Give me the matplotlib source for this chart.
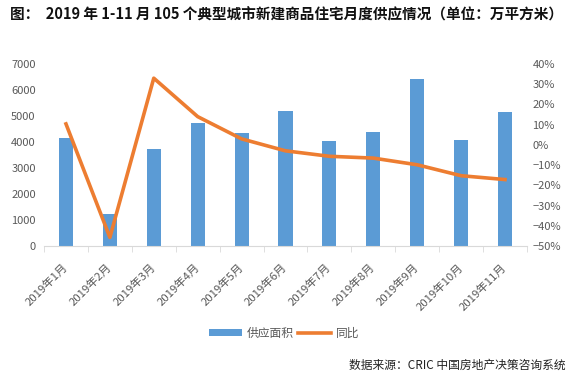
import numpy as np
import matplotlib
matplotlib.use('Agg')
import matplotlib.pyplot as plt
import matplotlib.transforms as mtransforms
from matplotlib.ticker import FuncFormatter, MultipleLocator

plt.rcParams['font.family'] = ['Noto Sans CJK SC', 'DejaVu Sans']
plt.rcParams['axes.unicode_minus'] = False

months = ['2019年%d月' % m for m in range(1, 12)]
supply = [4140, 1230, 3730, 4740, 4360, 5190, 4040, 4380, 6420, 4080, 5150]  # 万平方米
yoy = [10.4, -45.7, 33.0, 14.0, 3.0, -2.9, -5.6, -6.5, -9.8, -15.2, -17.1]  # %

bar_color = '#5B9BD5'
line_color = '#ED7D31'
txt = '#595959'

fig = plt.figure(figsize=(5.74, 3.81), dpi=100)
ax = fig.add_axes([0.0767, 0.354, 0.8413, 0.478])
x = np.arange(len(months))
ax.bar(x, supply, width=0.32, color=bar_color, label='供应面积', zorder=2)
ax.set_xlim(-0.5, len(months) - 0.5)
ax.set_ylim(0, 7000)
ax.yaxis.set_major_locator(MultipleLocator(1000))
ax.set_xticks(x)
ax.set_xticklabels(months, rotation=45, ha='right', va='center',
                   rotation_mode='anchor', fontsize=8.2, color=txt)
# nudge labels so their ends sit just right of the tick
offset = mtransforms.ScaledTranslation(7 / 100, 0, fig.dpi_scale_trans)
for lab in ax.get_xticklabels():
    lab.set_transform(lab.get_transform() + offset)
ax.set_xticks(np.arange(-0.5, len(months), 1), minor=True)
ax.tick_params(axis='x', which='major', length=0, pad=14)
ax.tick_params(axis='x', which='minor', length=4, color='#d9d9d9')
ax.tick_params(axis='y', length=0, labelsize=8, labelcolor=txt, pad=6)
for s in ['top', 'left', 'right']:
    ax.spines[s].set_visible(False)
ax.spines['bottom'].set_color('#d9d9d9')

ax2 = ax.twinx()
ax2.plot(x, yoy, color=line_color, lw=2.6, label='同比', zorder=3,
         solid_joinstyle='round')
ax2.set_ylim(-50, 40)
ax2.yaxis.set_major_locator(MultipleLocator(10))
ax2.yaxis.set_major_formatter(FuncFormatter(lambda v, p: '%d%%' % v if v >= 0 else '−%d%%' % -v))
ax2.tick_params(axis='y', length=0, labelsize=8, labelcolor=txt, pad=4)
for s in ['top', 'left', 'right', 'bottom']:
    ax2.spines[s].set_visible(False)

h1, l1 = ax.get_legend_handles_labels()
h2, l2 = ax2.get_legend_handles_labels()
fig.legend(h1 + h2, l1 + l2, loc='center', bbox_to_anchor=(0.495, 0.126),
           ncol=2, frameon=False, fontsize=8.5, handlelength=2.8,
           handleheight=0.5, columnspacing=0.4, handletextpad=0.4,
           labelcolor=txt)

fig.text(0.017, 0.962, '图：  2019 年 1-11 月 105 个典型城市新建商品住宅月度供应情况（单位：万平方米）',
         fontsize=10.5, fontweight='bold', color='#111111', va='center')
fig.text(0.985, 0.042, '数据来源：CRIC 中国房地产决策咨询系统', fontsize=8.5,
         color='#222222', ha='right', va='center')

fig.savefig('out.png', dpi=100)
